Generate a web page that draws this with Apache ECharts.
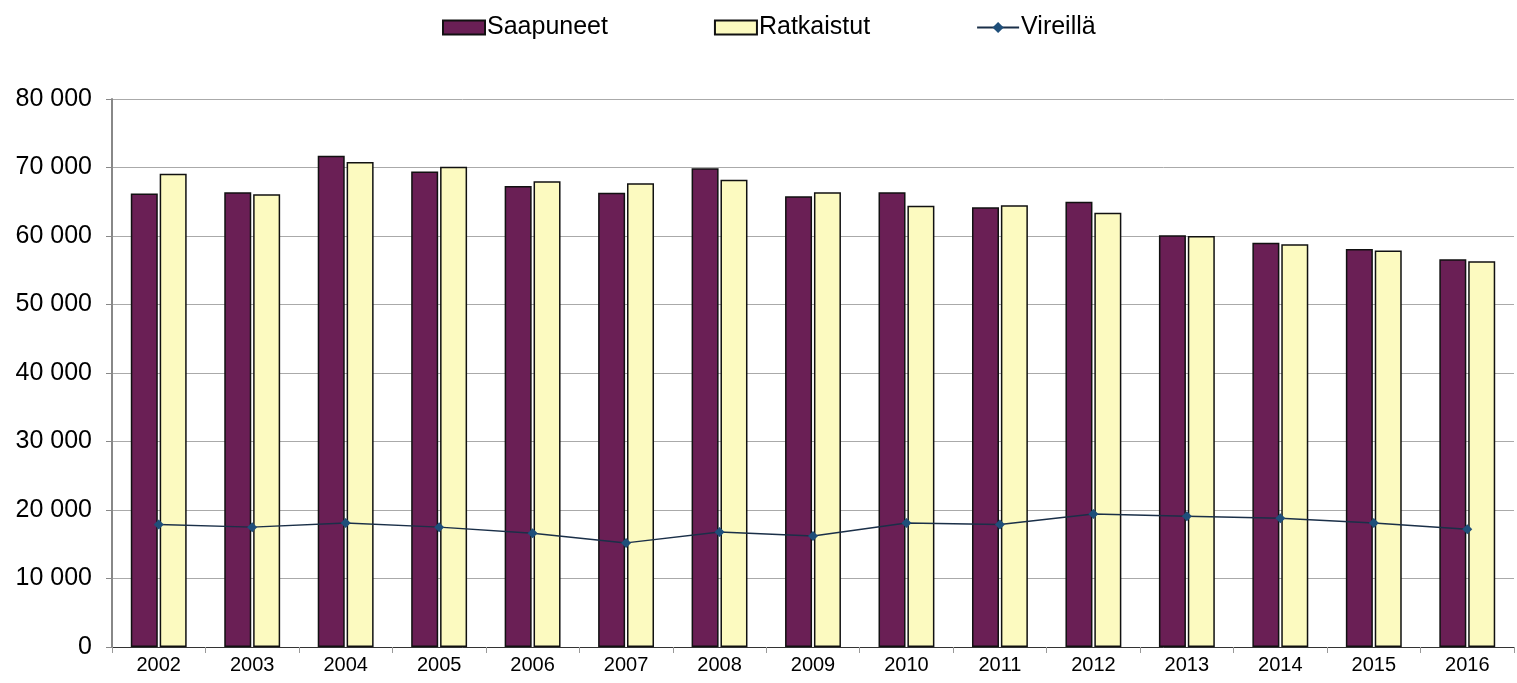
<!DOCTYPE html>
<html><head><meta charset="utf-8">
<script src="https://cdn.jsdelivr.net/npm/echarts@6/dist/echarts.min.js"></script>
<style>html,body{margin:0;padding:0;background:#fff}#c{width:1517px;height:683px}</style>
</head><body><div id="c"></div>
<script>
const years = ['2002','2003','2004','2005','2006','2007','2008','2009','2010','2011','2012','2013','2014','2015','2016'];
const saapuneet = [66200,66400,71700,69400,67300,66300,69900,65800,66400,64200,65000,60100,59000,58100,56600];
const ratkaistut = [69100,66100,70800,70100,68000,67700,68200,66400,64400,64500,63400,60000,58800,57900,56300];
const vireilla = [17900,17500,18100,17500,16600,15200,16800,16200,18100,17900,19400,19100,18800,18100,17200];

const chart = echarts.init(document.getElementById('c'));
const font = 'Liberation Sans, Arial, sans-serif';
chart.setOption({
  animation: false,
  legend: {
    top: 10, left: 437, itemGap: 106, itemWidth: 42, itemHeight: 14,
    textStyle: {fontFamily: font, fontSize: 25, color: '#000', padding: [0,0,0,-3]},
    data: [
      {name: 'Saapuneet', icon: 'rect'},
      {name: 'Ratkaistut', icon: 'rect'},
      {name: 'Vireillä'}
    ]
  },
  grid: {left: 112, right: 3, top: 99, bottom: 36, containLabel: false},
  xAxis: {
    type: 'category', data: years, boundaryGap: true,
    axisLine: {lineStyle: {color: '#333', width: 1}},
    axisTick: {show: true, alignWithLabel: false, length: 6, lineStyle: {color: '#999'}},
    axisLabel: {fontFamily: font, fontSize: 20, color: '#000', margin: 8}
  },
  yAxis: {
    type: 'value', min: 0, max: 80000, interval: 10000,
    axisLine: {show: true, lineStyle: {color: '#888', width: 2}},
    axisTick: {show: true, inside: false, length: 6, lineStyle: {color: '#888'}},
    splitLine: {lineStyle: {color: '#aaa', width: 1}},
    axisLabel: {fontFamily: font, fontSize: 25, color: '#000', margin: 20,
      formatter: v => v === 0 ? '0' : String(v).replace(/\B(?=(\d{3})+(?!\d))/g, ' ')}
  },
  series: [
    {name: 'Saapuneet', type: 'bar', data: saapuneet, barWidth: 27, barGap: '7%',
     itemStyle: {color: '#6a1f55', borderColor: '#111', borderWidth: 1.5}},
    {name: 'Ratkaistut', type: 'bar', data: ratkaistut, barWidth: 27,
     itemStyle: {color: '#fcfac0', borderColor: '#111', borderWidth: 1.5}},
    {name: 'Vireillä', type: 'line', data: vireilla, symbol: 'diamond', symbolSize: 10,
     lineStyle: {color: '#1a2f48', width: 1.5},
     itemStyle: {color: '#1f4f7a'}, z: 5}
  ]
});
</script></body></html>
